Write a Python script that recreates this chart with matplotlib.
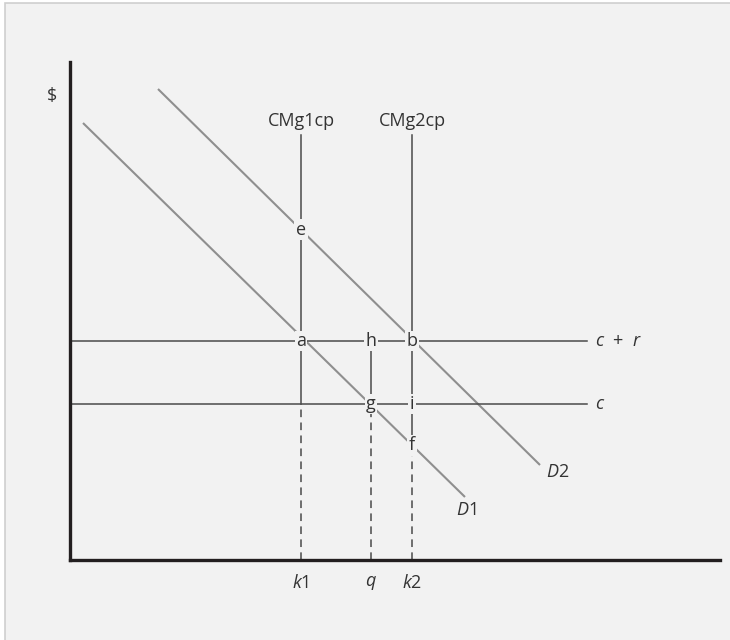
import numpy as np
import matplotlib.pyplot as plt
from matplotlib.patches import Rectangle

plt.rcParams['font.family'] = ['Open Sans', 'DejaVu Sans']
plt.rcParams['mathtext.fontset'] = 'custom'
plt.rcParams['mathtext.rm'] = 'Open Sans'
plt.rcParams['mathtext.it'] = 'Open Sans:italic'

# cantidades de referencia en el eje horizontal
k1 = 23.1
q = 30.1
k2 = 34.2
etiquetas_x = [r'$k$1', r'$q$', r'$k$2']

# niveles de costo
c = 15.6
c_r = 21.9
tope_cmg = 42.5
fin_horizontal = 51.7

# curvas de demanda (extremos)
d1_q = [1.3, 39.5]
d1_p = [43.7, 6.3]
d2_q = [8.8, 47.0]
d2_p = [47.1, 9.5]

fondo = '#f2f2f2'
oscuro = '#4a4a4a'
gris = '#8f8f8f'
texto = '#333333'

fig = plt.figure(figsize=(7.3, 6.4), dpi=100, facecolor='white')
# recuadro gris claro del fondo
fig.patches.append(Rectangle((5 / 730, -0.1), 1.1, 1.1 - 3 / 640, transform=fig.transFigure,
                             facecolor=fondo, edgecolor='#cfcfcf', linewidth=1.2, zorder=-5))

ax = fig.add_axes([70 / 730, 80 / 640, 650 / 730, 498 / 640])
ax.set_facecolor('none')
ax.set_xlim(0, 65)
ax.set_ylim(0, 49.8)
for lado in ['top', 'right']:
    ax.spines[lado].set_visible(False)
for lado in ['left', 'bottom']:
    ax.spines[lado].set_color('#231f20')
    ax.spines[lado].set_linewidth(2.4)
ax.set_xticks([])
ax.set_yticks([])

# demandas
ax.plot(d1_q, d1_p, color=gris, lw=1.5, solid_capstyle='butt')
ax.plot(d2_q, d2_p, color=gris, lw=1.5, solid_capstyle='butt')

# costos horizontales
ax.plot([0, fin_horizontal], [c_r, c_r], color=oscuro, lw=1.1)
ax.plot([0, fin_horizontal], [c, c], color=oscuro, lw=1.1)

# puntos de corte con las demandas
e = np.interp(k1, d2_q, d2_p)
f = np.interp(k2, d1_q, d1_p)

# verticales de costo marginal
guion = (5, 3.5)
ax.plot([k1, k1], [c, tope_cmg], color=oscuro, lw=1.1)
ax.plot([k1, k1], [0, c], color=oscuro, lw=1.1, dashes=guion)
ax.plot([q, q], [c, c_r], color=oscuro, lw=1.1)
ax.plot([q, q], [0, c], color=oscuro, lw=1.1, dashes=guion)
ax.plot([k2, k2], [f, tope_cmg], color=oscuro, lw=1.1)
ax.plot([k2, k2], [0, f], color=oscuro, lw=1.1, dashes=guion)

caja = dict(facecolor=fondo, edgecolor='none', pad=1.0)
puntos = [('a', k1, c_r), ('h', q, c_r), ('b', k2, c_r),
          ('g', q, c), ('i', k2, c), ('e', k1, e), ('f', k2, f)]
for letra, xx, yy in puntos:
    ax.text(xx, yy, letra, ha='center', va='center', fontsize=13, color=texto,
            bbox=caja, zorder=5)

ax.text(k1, 43.9, 'CMg1cp', ha='center', va='center', fontsize=13, color=texto)
ax.text(k2, 43.9, 'CMg2cp', ha='center', va='center', fontsize=13, color=texto)

ax.text(52.5, c_r, r'$c$  +  $r$', ha='left', va='center', fontsize=13, color=texto)
ax.text(52.5, c, r'$c$', ha='left', va='center', fontsize=13, color=texto)
ax.text(38.6, 5.0, r'$D$1', ha='left', va='center', fontsize=13, color=texto)
ax.text(47.6, 8.8, r'$D$2', ha='left', va='center', fontsize=13, color=texto)

for xx, et in zip([k1, q, k2], etiquetas_x):
    ax.text(xx, -2.3, et, ha='center', va='center', fontsize=13, color=texto, clip_on=False)

ax.text(-1.8, 46.4, '$', ha='center', va='center', fontsize=13, color=texto, clip_on=False)

fig.savefig('out.png', dpi=100, facecolor=fig.get_facecolor())
